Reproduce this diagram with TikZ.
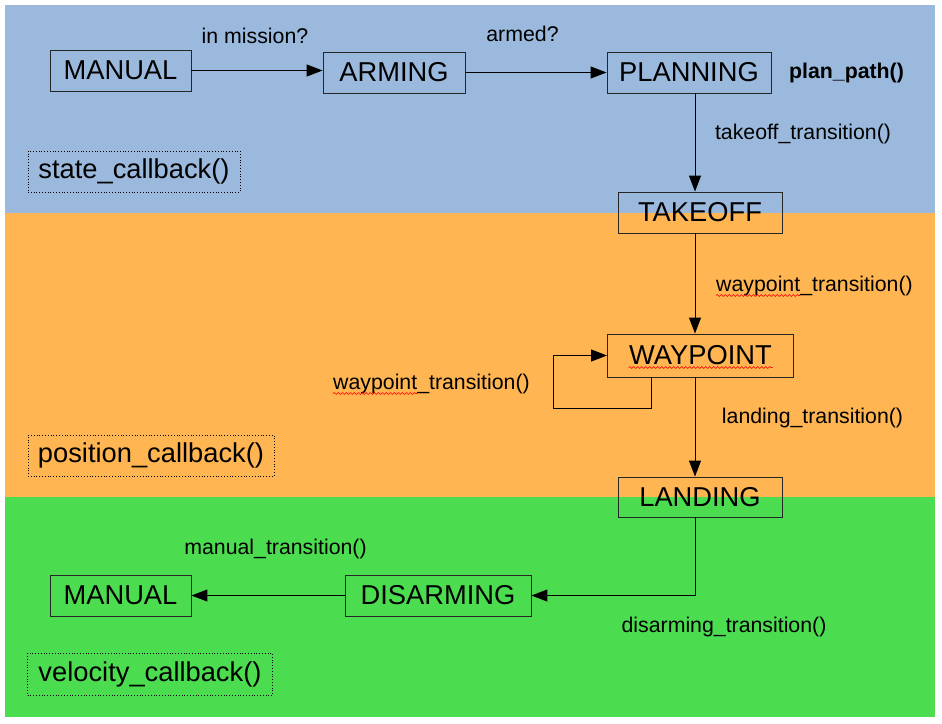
\documentclass[tikz,border=0pt]{standalone}
\usepackage{fontspec}
\setmainfont{Liberation Sans}
\usetikzlibrary{arrows.meta,calc,decorations.pathmorphing}
\definecolor{stateblue}{RGB}{154,185,220}
\definecolor{posorange}{RGB}{255,181,82}
\definecolor{velgreen}{RGB}{76,220,80}

\begin{document}
\begin{tikzpicture}[x=1pt,y=1pt,yscale=-1,
  statebox/.style={draw=black!85,line width=0.9pt,inner sep=0pt,minimum height=41pt,font=\fontsize{27.3pt}{32pt}\selectfont},
  cbbox/.style={draw,dotted,line width=0.8pt,inner sep=0pt,minimum height=41pt,font=\fontsize{27.3pt}{32pt}\selectfont},
  lbl/.style={inner sep=0pt,font=\fontsize{21.3pt}{25pt}\selectfont},
  arr/.style={draw,line width=1pt,-{Triangle[length=16pt,width=12pt]}},
  spell/.style={red,line width=0.6pt,decorate,decoration={snake,amplitude=1pt,segment length=4pt}}]
\useasboundingbox (0,0) rectangle (942,723);

%bands
\fill[stateblue] (5,5) rectangle (935,213);
\fill[posorange] (5,213) rectangle (935,497);
\fill[velgreen] (5,497) rectangle (935,716.5);

%states
\node[statebox,minimum width=141pt] (manual) at (120.5,70.5) {MANUAL};
\node[statebox,minimum width=142pt] (arming) at (394,72.5) {ARMING};
\node[statebox,minimum width=164pt] (planning) at (689,72.5) {PLANNING};
\node[statebox,minimum width=164pt] (takeoff) at (700,212.5) {TAKEOFF};
\node[statebox,minimum width=186pt,minimum height=43pt] (waypoint) at (700.5,355.5) {WAYPOINT};
\node[statebox,minimum width=164pt,minimum height=40pt] (landing) at (700,497) {LANDING};
\node[statebox,minimum width=186pt] (disarming) at (438,595.5) {DISARMING};
\node[statebox,minimum width=141pt] (manualb) at (120.5,595.5) {MANUAL};

%callbacks
\node[cbbox,minimum width=212pt] (statecb) at (134,171.5) {state\_callback()};
\node[cbbox,minimum width=246pt] (poscb) at (151,455.5) {position\_callback()};
\node[cbbox,minimum width=245pt,minimum height=42pt] (velcb) at (150,674.3) {velocity\_callback()};

%arrows
\coordinate (spine) at (695,0);
\coordinate (loopfoot) at (651,408);
\coordinate (loopleft) at (553,356);
\draw[arr] (manual.east) -- (manual.east -| arming.west);
\draw[arr] (arming.east) -- (arming.east -| planning.west);
\draw[arr] (planning.south -| spine) -- (takeoff.north -| spine);
\draw[arr] (takeoff.south -| spine) -- (waypoint.north -| spine);
\draw[arr] (waypoint.south -| loopfoot) |- (loopleft |- loopfoot) |- (waypoint.west);
\draw[arr] (waypoint.south -| spine) -- (landing.north -| spine);
\draw[arr] (landing.south -| spine) |- (disarming.east);
\draw[arr] (disarming.west) -- (disarming.west -| manualb.east);

% Text Node
\node[lbl] (inmission) at (255,36) {in mission?};
\node[lbl] (armed) at (522.5,34) {armed?};
\node[lbl,font=\fontsize{21.3pt}{25pt}\selectfont\bfseries] (planpath) at (846.5,73) {plan\_path()};
\node[lbl] (takeofftr) at (803,134) {takeoff\_transition()};
\node[lbl,anchor=west] (wptr) at (716,286) {waypoint\_transition()};
\node[lbl,anchor=west] (wploop) at (333,384) {waypoint\_transition()};
\node[lbl] (landtr) at (812.5,418) {landing\_transition()};
\node[lbl] (manualtr) at (275.5,549) {manual\_transition()};
\node[lbl] (disarmtr) at (724,627) {disarming\_transition()};

%spell marks
\draw[spell] ($(wptr.base west)+(0,4)$) -- ++(84,0);
\draw[spell] ($(wploop.base west)+(0,4)$) -- ++(84,0);
\draw[spell] ($(waypoint.center)+(-72,12)$) -- ++(144,0);

\end{tikzpicture}
\end{document}
